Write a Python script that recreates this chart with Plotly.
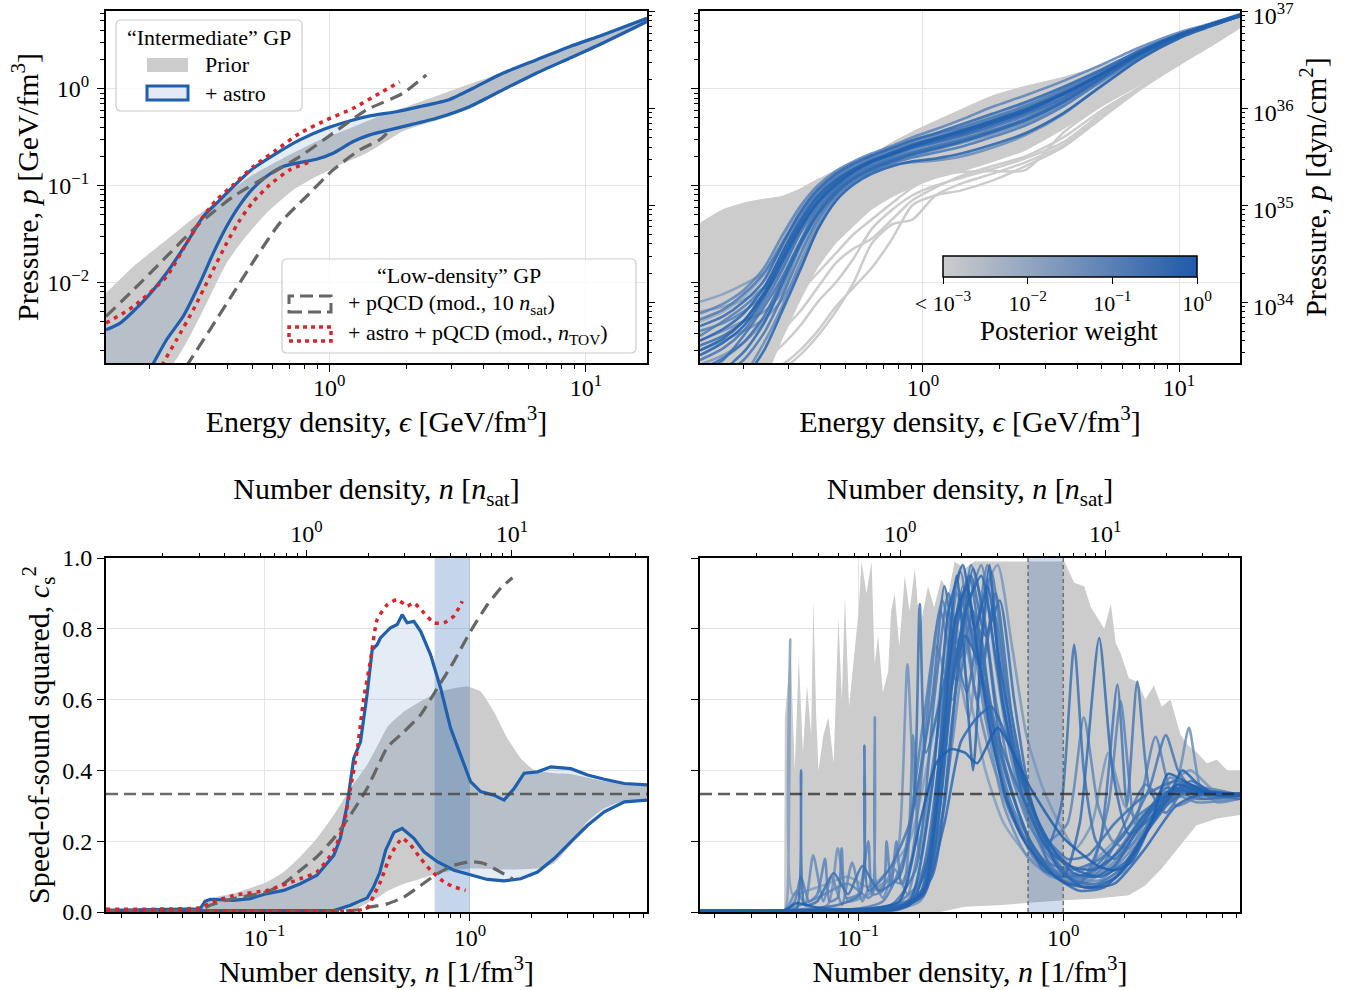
import math
import plotly.graph_objects as go

# ====================== DATA ======================
# ---- top-left: log10(eps [GeV/fm^3]) , log10(p [GeV/fm^3]) ----
tl_prior_up_le = [-0.870, -0.763, -0.634, -0.530, -0.465, -0.400, -0.309, -0.180, -0.050, 0.080, 0.196, 0.287, 0.482, 0.611, 0.741, 0.871, 1.000, 1.238]
tl_prior_up_lp = [-2.110, -1.835, -1.560, -1.337, -1.217, -1.090, -0.907, -0.718, -0.546, -0.409, -0.282, -0.200, -0.014, 0.107, 0.244, 0.365, 0.485, 0.735]
tl_prior_lo_le = [-0.870, -0.608, -0.530, -0.465, -0.400, -0.335, -0.245, -0.141, -0.050, 0.041, 0.145, 0.287, 0.417, 0.546, 0.676, 0.806, 0.936, 1.065, 1.238]
tl_prior_lo_lp = [-3.200, -2.832, -2.488, -2.144, -1.800, -1.560, -1.285, -1.045, -0.907, -0.787, -0.667, -0.440, -0.330, -0.210, -0.030, 0.140, 0.300, 0.455, 0.680]

tl_post_up_le = [-0.870, -0.815, -0.725, -0.634, -0.556, -0.491, -0.439, -0.374, -0.296, -0.206, -0.115, -0.011, 0.093, 0.158, 0.261, 0.352, 0.469, 0.573, 0.676, 0.806, 0.936, 1.065, 1.238]
tl_post_up_lp = [-2.488, -2.419, -2.196, -1.903, -1.594, -1.319, -1.182, -1.010, -0.822, -0.667, -0.529, -0.409, -0.323, -0.281, -0.238, -0.186, -0.111, 0.021, 0.158, 0.296, 0.433, 0.554, 0.725]
tl_post_lo_le = [-0.870, -0.720, -0.685, -0.634, -0.569, -0.504, -0.452, -0.400, -0.348, -0.296, -0.245, -0.180, -0.115, -0.050, 0.015, 0.093, 0.158, 0.287, 0.417, 0.546, 0.676, 0.806, 0.936, 1.065, 1.238]
tl_post_lo_lp = [-3.700, -3.000, -2.832, -2.591, -2.349, -2.006, -1.697, -1.422, -1.199, -1.027, -0.907, -0.804, -0.763, -0.729, -0.667, -0.546, -0.477, -0.392, -0.306, -0.186, -0.013, 0.159, 0.313, 0.468, 0.692]

tl_dash_up_le = [-0.870, -0.763, -0.634, -0.504, -0.374, -0.245, -0.115, 0.015, 0.145, 0.287, 0.378]
tl_dash_up_lp = [-2.350, -2.076, -1.732, -1.388, -1.113, -0.907, -0.701, -0.460, -0.220, -0.048, 0.141]
tl_dash_lo_le = [-0.600, -0.549, -0.465, -0.374, -0.283, -0.193, -0.089, 0.015, 0.119, 0.196, 0.224]
tl_dash_lo_lp = [-3.040, -2.832, -2.488, -2.110, -1.732, -1.388, -1.113, -0.838, -0.632, -0.529, -0.461]

tl_red_up_le = [-0.870, -0.763, -0.634, -0.556, -0.491, -0.439, -0.374, -0.296, -0.206, -0.115, -0.011, 0.093, 0.196, 0.274]
tl_red_up_lp = [-2.419, -2.248, -1.938, -1.594, -1.319, -1.148, -0.993, -0.804, -0.632, -0.460, -0.323, -0.203, -0.048, 0.070]
tl_red_lo_le = [-0.700, -0.647, -0.595, -0.530, -0.465, -0.400, -0.348, -0.296, -0.232, -0.154, -0.070]
tl_red_lo_lp = [-3.100, -2.832, -2.591, -2.282, -1.938, -1.594, -1.354, -1.165, -0.993, -0.838, -0.752]

# ---- top-right: sample EOSs on a common log10(eps) grid (log10 p) ----
tr_grid_le = [-0.87, -0.78, -0.70, -0.62, -0.55, -0.48, -0.41, -0.34, -0.27, -0.20, -0.12, -0.04, 0.05, 0.15, 0.27, 0.40, 0.55, 0.70, 0.85, 1.00, 1.12, 1.24]
tr_gray_env_up = [-1.39, -1.25, -1.18, -1.14, -1.11, -1.03, -0.93, -0.84, -0.77, -0.68, -0.55, -0.44, -0.33, -0.21, -0.07, 0.03, 0.12, 0.24, 0.38, 0.53, 0.64, 0.77]
tr_gray_env_lo = [-3.10, -3.10, -3.10, -3.00, -2.60, -2.20, -1.85, -1.60, -1.42, -1.25, -1.12, -1.02, -0.93, -0.86, -0.76, -0.64, -0.42, -0.17, 0.06, 0.29, 0.47, 0.66]
tr_gray_a = [-2.90, -2.75, -2.60, -2.45, -2.30, -2.10, -1.90, -1.70, -1.50, -1.35, -1.18, -1.02, -0.90, -0.86, -0.85, -0.84, -0.45, -0.17, 0.05, 0.28, 0.46, 0.66]
tr_gray_b = [-3.00, -3.00, -3.00, -2.95, -2.85, -2.70, -2.50, -2.25, -2.05, -1.85, -1.55, -1.20, -1.10, -1.05, -0.95, -0.80, -0.60, -0.30, 0.00, 0.25, 0.44, 0.64]
tr_gray_c = [-3.00, -2.95, -2.85, -2.70, -2.50, -2.30, -2.05, -1.80, -1.65, -1.55, -1.35, -1.15, -1.02, -0.90, -0.80, -0.70, -0.50, -0.22, 0.02, 0.27, 0.46, 0.66]
tr_gray_d = [-1.40, -1.26, -1.19, -1.15, -1.12, -1.05, -0.95, -0.86, -0.78, -0.70, -0.58, -0.46, -0.35, -0.23, -0.10, 0.01, 0.11, 0.23, 0.37, 0.52, 0.63, 0.76]
tr_gray_e = [-3.00, -3.00, -2.90, -2.80, -2.65, -2.45, -2.20, -2.00, -1.75, -1.45, -1.25, -1.10, -1.00, -0.92, -0.83, -0.72, -0.55, -0.25, 0.02, 0.27, 0.46, 0.66]
tr_gray_f = [-3.00, -3.00, -3.00, -3.00, -2.90, -2.75, -2.55, -2.30, -2.00, -1.60, -1.40, -1.35, -1.10, -0.98, -0.88, -0.76, -0.58, -0.28, 0.00, 0.26, 0.45, 0.65]

tr_blue_1 = [-2.75, -2.62, -2.45, -2.15, -1.80, -1.45, -1.18, -1.00, -0.86, -0.76, -0.68, -0.60, -0.53, -0.46, -0.36, -0.24, -0.06, 0.15, 0.37, 0.55, 0.66, 0.76]
tr_blue_2 = [-2.45, -2.35, -2.20, -1.98, -1.62, -1.28, -1.04, -0.88, -0.77, -0.69, -0.61, -0.53, -0.46, -0.37, -0.26, -0.14, 0.02, 0.20, 0.40, 0.56, 0.66, 0.76]
tr_blue_3 = [-3.00, -2.95, -2.80, -2.52, -2.15, -1.72, -1.35, -1.10, -0.95, -0.85, -0.77, -0.71, -0.66, -0.60, -0.50, -0.38, -0.18, 0.08, 0.33, 0.53, 0.65, 0.75]
tr_blue_4 = [-2.32, -2.22, -2.08, -1.85, -1.52, -1.22, -1.00, -0.85, -0.75, -0.67, -0.59, -0.50, -0.42, -0.32, -0.19, -0.07, 0.08, 0.25, 0.43, 0.58, 0.67, 0.77]
tr_blue_5 = [-2.60, -2.50, -2.40, -2.30, -2.10, -1.60, -1.20, -0.98, -0.84, -0.74, -0.66, -0.58, -0.50, -0.42, -0.32, -0.20, -0.03, 0.16, 0.38, 0.55, 0.66, 0.76]
tr_blue_6 = [-2.95, -2.80, -2.55, -2.25, -1.95, -1.58, -1.26, -1.04, -0.90, -0.80, -0.72, -0.65, -0.59, -0.52, -0.43, -0.31, -0.12, 0.12, 0.36, 0.55, 0.66, 0.76]
tr_blue_7 = [-2.20, -2.12, -2.02, -1.90, -1.65, -1.30, -1.05, -0.90, -0.80, -0.72, -0.64, -0.56, -0.49, -0.40, -0.29, -0.17, 0.00, 0.18, 0.39, 0.56, 0.66, 0.76]
tr_blue_8 = [-3.00, -3.00, -2.98, -2.70, -2.30, -1.88, -1.45, -1.16, -0.99, -0.88, -0.80, -0.75, -0.72, -0.67, -0.58, -0.46, -0.25, 0.03, 0.31, 0.52, 0.64, 0.75]
tr_blue_9 = [-2.55, -2.40, -2.25, -2.05, -1.75, -1.38, -1.10, -0.93, -0.82, -0.73, -0.65, -0.57, -0.51, -0.44, -0.35, -0.23, -0.05, 0.16, 0.38, 0.56, 0.66, 0.76]
tr_blue_10 = [-2.85, -2.75, -2.62, -2.40, -2.05, -1.65, -1.30, -1.06, -0.91, -0.81, -0.73, -0.66, -0.60, -0.54, -0.46, -0.35, -0.16, 0.10, 0.34, 0.54, 0.65, 0.75]
tr_blue_11 = [-2.65, -2.55, -2.40, -2.10, -1.70, -1.35, -1.10, -0.94, -0.83, -0.75, -0.68, -0.61, -0.55, -0.48, -0.38, -0.26, -0.09, 0.13, 0.36, 0.55, 0.66, 0.76]
tr_blue_12 = [-2.40, -2.30, -2.15, -1.92, -1.58, -1.25, -1.02, -0.87, -0.78, -0.70, -0.62, -0.54, -0.47, -0.39, -0.28, -0.16, 0.01, 0.19, 0.40, 0.56, 0.66, 0.76]
tr_blue_13 = [-3.00, -3.00, -2.95, -2.62, -2.25, -1.80, -1.40, -1.12, -0.97, -0.86, -0.79, -0.76, -0.74, -0.70, -0.61, -0.48, -0.26, 0.04, 0.31, 0.52, 0.64, 0.75]
tr_blue_14 = [-2.80, -2.68, -2.50, -2.20, -1.88, -1.50, -1.22, -1.02, -0.88, -0.78, -0.70, -0.62, -0.56, -0.49, -0.40, -0.28, -0.10, 0.13, 0.36, 0.55, 0.66, 0.76]
tr_blue_15 = [-2.60, -2.48, -2.32, -2.05, -1.70, -1.38, -1.12, -0.95, -0.83, -0.74, -0.66, -0.58, -0.51, -0.43, -0.33, -0.21, -0.04, 0.16, 0.38, 0.56, 0.66, 0.76]
tr_blue_16 = [-2.90, -2.78, -2.62, -2.35, -1.98, -1.60, -1.28, -1.06, -0.92, -0.82, -0.74, -0.67, -0.61, -0.54, -0.44, -0.32, -0.13, 0.11, 0.35, 0.54, 0.65, 0.75]
tr_blue_17 = [-2.50, -2.42, -2.30, -2.12, -1.85, -1.48, -1.15, -0.95, -0.83, -0.74, -0.66, -0.58, -0.51, -0.44, -0.34, -0.22, -0.05, 0.15, 0.37, 0.55, 0.66, 0.76]
tr_blue_18 = [-2.70, -2.60, -2.50, -2.38, -2.18, -1.85, -1.45, -1.15, -0.97, -0.85, -0.76, -0.69, -0.63, -0.56, -0.47, -0.35, -0.16, 0.10, 0.34, 0.54, 0.65, 0.75]
tr_blue_19 = [-3.00, -2.90, -2.72, -2.42, -2.02, -1.62, -1.30, -1.08, -0.93, -0.83, -0.75, -0.68, -0.62, -0.55, -0.45, -0.33, -0.14, 0.11, 0.35, 0.54, 0.65, 0.75]
tr_blue_20 = [-2.38, -2.28, -2.12, -1.90, -1.60, -1.30, -1.06, -0.90, -0.79, -0.70, -0.62, -0.54, -0.47, -0.40, -0.30, -0.18, -0.01, 0.18, 0.39, 0.56, 0.66, 0.76]
tr_blue_21 = [-2.30, -2.25, -2.18, -2.05, -1.80, -1.42, -1.10, -0.92, -0.81, -0.73, -0.66, -0.59, -0.53, -0.46, -0.37, -0.25, -0.07, 0.14, 0.37, 0.55, 0.66, 0.76]
tr_blue_22 = [-2.70, -2.58, -2.40, -2.12, -1.76, -1.42, -1.16, -0.98, -0.85, -0.75, -0.67, -0.59, -0.52, -0.44, -0.34, -0.22, -0.05, 0.15, 0.37, 0.55, 0.66, 0.76]
tr_blue_weights = [1.0, 0.5, 0.2, 0.1, 0.05, 0.3, 0.02, 0.8, 0.15, 0.03, 0.4, 0.01, 0.06, 0.25,
                   0.7, 0.35, 0.12, 0.04, 0.6, 0.18, 0.015, 0.9]

# ---- bottom-left: log10(n [1/fm^3]) , c_s^2 ----
bl_prior_up_ln = [-1.772, -1.314, -1.265, -1.151, -0.988, -0.907, -0.826, -0.745, -0.663, -0.582, -0.501, -0.45, -0.40, -0.322, -0.240, -0.159, -0.078, -0.013, 0.052, 0.117, 0.182, 0.247, 0.312, 0.410, 0.49, 0.65, 0.862]
bl_prior_up_c = [0.007, 0.009, 0.038, 0.052, 0.085, 0.113, 0.156, 0.208, 0.274, 0.349, 0.415, 0.47, 0.525, 0.566, 0.595, 0.621, 0.632, 0.637, 0.623, 0.566, 0.491, 0.434, 0.401, 0.392, 0.39, 0.37, 0.355]
bl_prior_lo_ln = [-1.772, -0.65, -0.55, -0.50, -0.45, -0.40, -0.32, -0.24, -0.16, -0.08, 0.0, 0.17, 0.33, 0.41, 0.49, 0.57, 0.65, 0.73, 0.862]
bl_prior_lo_c = [0.003, 0.003, 0.01, 0.025, 0.04, 0.06, 0.08, 0.094, 0.108, 0.118, 0.123, 0.12, 0.123, 0.137, 0.189, 0.255, 0.292, 0.311, 0.316]

bl_post_up_ln = [-1.772, -1.314, -1.290, -1.265, -1.151, -1.070, -0.988, -0.907, -0.826, -0.745, -0.663, -0.631, -0.598, -0.566, -0.533, -0.501, -0.476, -0.452, -0.436, -0.387, -0.354, -0.330, -0.306, -0.273, -0.240, -0.192, -0.143, -0.094, -0.046, 0.003, 0.052, 0.117, 0.166, 0.215, 0.264, 0.329, 0.394, 0.491, 0.573, 0.654, 0.752, 0.862]
bl_post_up_c = [0.005, 0.009, 0.030, 0.036, 0.033, 0.038, 0.052, 0.061, 0.080, 0.104, 0.160, 0.208, 0.302, 0.434, 0.481, 0.614, 0.741, 0.755, 0.774, 0.803, 0.812, 0.840, 0.817, 0.821, 0.793, 0.727, 0.633, 0.519, 0.444, 0.368, 0.340, 0.330, 0.316, 0.349, 0.392, 0.396, 0.410, 0.405, 0.387, 0.375, 0.363, 0.359]
bl_post_lo_ln = [-1.772, -0.663, -0.582, -0.50, -0.47, -0.44, -0.41, -0.37, -0.33, -0.273, -0.224, -0.159, -0.078, 0.003, 0.085, 0.166, 0.247, 0.329, 0.410, 0.491, 0.573, 0.654, 0.752, 0.862]
bl_post_lo_c = [0.003, 0.004, 0.019, 0.04, 0.07, 0.11, 0.175, 0.225, 0.236, 0.208, 0.170, 0.142, 0.118, 0.104, 0.092, 0.088, 0.094, 0.113, 0.151, 0.198, 0.245, 0.283, 0.311, 0.316]

bl_red_up_ln = [-1.772, -1.314, -1.265, -1.151, -0.988, -0.826, -0.745, -0.663, -0.615, -0.582, -0.550, -0.517, -0.485, -0.452, -0.403, -0.354, -0.306, -0.273, -0.224, -0.175, -0.127, -0.078, -0.037]
bl_red_up_c = [0.008, 0.012, 0.025, 0.047, 0.061, 0.094, 0.113, 0.174, 0.245, 0.349, 0.453, 0.604, 0.708, 0.826, 0.868, 0.883, 0.864, 0.873, 0.845, 0.817, 0.817, 0.836, 0.878]
bl_red_lo_ln = [-1.772, -0.55, -0.50, -0.468, -0.436, -0.387, -0.330, -0.289, -0.240, -0.192, -0.127, -0.078, -0.021]
bl_red_lo_c = [0.004, 0.004, 0.012, 0.047, 0.085, 0.160, 0.208, 0.189, 0.151, 0.118, 0.085, 0.071, 0.061]

bl_dash_up_ln = [-1.772, -1.314, -1.265, -1.151, -0.988, -0.907, -0.826, -0.745, -0.663, -0.582, -0.501, -0.45, -0.403, -0.322, -0.240, -0.159, -0.078, 0.003, 0.085, 0.150, 0.207]
bl_dash_up_c = [0.005, 0.006, 0.019, 0.038, 0.057, 0.080, 0.118, 0.156, 0.208, 0.274, 0.349, 0.41, 0.465, 0.509, 0.557, 0.632, 0.708, 0.793, 0.868, 0.915, 0.944]
bl_dash_lo_ln = [-1.772, -0.60, -0.52, -0.484, -0.403, -0.322, -0.240, -0.159, -0.078, 0.003, 0.068, 0.133, 0.207]
bl_dash_lo_c = [0.003, 0.003, 0.008, 0.014, 0.023, 0.042, 0.075, 0.108, 0.132, 0.142, 0.137, 0.118, 0.094]

n_tov_band = [0.673, 1.0]
conformal_cs2 = 1.0 / 3.0

# ---- bottom-right: sample c_s^2 curves (log10 n, c_s^2) ----
br_gray_up_ln = [-1.772, -1.362, -1.358, -1.33, -1.31, -1.29, -1.27, -1.25, -1.23, -1.219, -1.205, -1.194, -1.17, -1.146, -1.12, -1.097, -1.08, -1.065, -1.045, -1.02, -1.0, -0.984, -0.96, -0.935, -0.92, -0.903, -0.88, -0.854, -0.84, -0.822, -0.80, -0.773, -0.75, -0.724, -0.70, -0.66, -0.63, -0.595, -0.56, -0.53, -0.48, -0.433, -0.38, -0.30, -0.20, -0.10, 0.005, 0.053, 0.102, 0.135, 0.167, 0.20, 0.232, 0.256, 0.28, 0.32, 0.361, 0.40, 0.442, 0.48, 0.523, 0.572, 0.61, 0.653, 0.70, 0.75, 0.80, 0.862]
br_gray_up_c = [0.004, 0.004, 0.55, 0.74, 0.40, 0.72, 0.45, 0.64, 0.50, 0.88, 0.55, 0.40, 0.50, 0.55, 0.42, 0.83, 0.60, 0.89, 0.58, 0.73, 0.84, 0.99, 0.90, 0.99, 0.70, 0.78, 0.62, 0.68, 0.85, 0.90, 0.75, 0.95, 0.85, 0.97, 0.80, 0.92, 0.86, 0.94, 0.90, 0.99, 0.97, 0.99, 0.99, 0.99, 0.99, 0.99, 0.99, 0.93, 0.92, 0.86, 0.83, 0.80, 0.87, 0.76, 0.73, 0.66, 0.65, 0.60, 0.64, 0.58, 0.60, 0.50, 0.47, 0.45, 0.42, 0.43, 0.40, 0.40]
br_gray_lo_ln = [-1.772, -0.60, -0.48, -0.30, 0.005, 0.167, 0.32, 0.40, 0.48, 0.56, 0.65, 0.75, 0.862]
br_gray_lo_c = [0.0, 0.0, 0.015, 0.02, 0.033, 0.038, 0.047, 0.075, 0.123, 0.18, 0.245, 0.264, 0.274]

br_b1_ln = [-1.772, -1.36, -1.30, -1.20, -1.00, -0.80, -0.70, -0.62, -0.55, -0.48, -0.42, -0.32, -0.16, 0.0, 0.17, 0.25, 0.33, 0.43, 0.51, 0.59, 0.69, 0.862]
br_b1_c = [0.003, 0.005, 0.025, 0.012, 0.008, 0.03, 0.25, 0.42, 0.46, 0.45, 0.42, 0.52, 0.35, 0.21, 0.13, 0.118, 0.14, 0.255, 0.39, 0.37, 0.34, 0.335]
br_b2_ln = [-1.772, -1.36, -1.0, -0.75, -0.66, -0.58, -0.52, -0.48, -0.44, -0.40, -0.36, -0.30, -0.22, -0.12, -0.02, 0.10, 0.25, 0.40, 0.55, 0.70, 0.862]
br_b2_c = [0.003, 0.004, 0.006, 0.02, 0.15, 0.60, 0.95, 0.70, 0.40, 0.75, 0.98, 0.60, 0.40, 0.25, 0.12, 0.07, 0.08, 0.18, 0.30, 0.34, 0.33]
br_b3_ln = [-1.772, -1.36, -0.90, -0.70, -0.58, -0.48, -0.40, -0.33, -0.25, -0.16, -0.08, -0.01, 0.053, 0.10, 0.16, 0.25, 0.35, 0.50, 0.65, 0.862]
br_b3_c = [0.003, 0.004, 0.01, 0.05, 0.30, 0.85, 0.70, 0.90, 0.55, 0.30, 0.18, 0.30, 0.755, 0.40, 0.20, 0.15, 0.22, 0.35, 0.32, 0.33]
br_b4_ln = [-1.772, -1.36, -0.80, -0.64, -0.54, -0.44, -0.38, -0.30, -0.20, -0.10, 0.0, 0.08, 0.175, 0.24, 0.32, 0.45, 0.60, 0.75, 0.862]
br_b4_c = [0.003, 0.004, 0.01, 0.10, 0.55, 0.97, 0.80, 0.45, 0.25, 0.12, 0.10, 0.25, 0.774, 0.40, 0.22, 0.28, 0.36, 0.33, 0.32]
br_b5_ln = [-1.772, -1.36, -0.75, -0.60, -0.50, -0.42, -0.34, -0.24, -0.14, -0.04, 0.08, 0.18, 0.264, 0.31, 0.361, 0.42, 0.50, 0.62, 0.75, 0.862]
br_b5_c = [0.003, 0.004, 0.02, 0.45, 0.90, 0.60, 0.85, 0.45, 0.25, 0.10, 0.08, 0.20, 0.642, 0.30, 0.651, 0.35, 0.28, 0.37, 0.33, 0.33]
br_b6_ln = [-1.772, -1.36, -0.85, -0.68, -0.57, -0.50, -0.44, -0.37, -0.29, -0.19, -0.08, 0.02, 0.12, 0.22, 0.28, 0.35, 0.45, 0.55, 0.70, 0.862]
br_b6_c = [0.003, 0.004, 0.01, 0.10, 0.70, 0.96, 0.75, 0.98, 0.60, 0.30, 0.15, 0.08, 0.10, 0.30, 0.595, 0.25, 0.495, 0.30, 0.34, 0.33]
br_b7_ln = [-1.772, -1.36, -0.70, -0.56, -0.46, -0.38, -0.29, -0.18, -0.06, 0.05, 0.20, 0.35, 0.48, 0.56, 0.613, 0.67, 0.75, 0.862]
br_b7_c = [0.003, 0.004, 0.03, 0.40, 0.80, 0.55, 0.30, 0.16, 0.10, 0.09, 0.12, 0.20, 0.30, 0.38, 0.52, 0.35, 0.31, 0.32]
br_b8_ln = [-1.772, -1.36, -1.30, -1.279, -1.26, -1.20, -1.12, -1.05, -0.98, -0.90, -0.80, -0.73, -0.70, -0.67, -0.56, -0.46, -0.39, -0.32, -0.22, -0.10, 0.02, 0.12, 0.25, 0.40, 0.55, 0.70, 0.862]
br_b8_c = [0.003, 0.004, 0.01, 0.40, 0.02, 0.03, 0.11, 0.05, 0.13, 0.06, 0.10, 0.30, 0.87, 0.45, 0.70, 0.95, 0.70, 0.50, 0.35, 0.22, 0.15, 0.16, 0.25, 0.33, 0.37, 0.34, 0.33]
br_b9_ln = [-1.772, -1.36, -1.345, -1.332, -1.32, -1.25, -1.15, -1.05, -0.95, -0.85, -0.75, -0.62, -0.54, -0.47, -0.38, -0.29, -0.16, -0.03, 0.10, 0.25, 0.40, 0.55, 0.70, 0.862]
br_b9_c = [0.003, 0.004, 0.05, 0.77, 0.05, 0.06, 0.08, 0.10, 0.07, 0.12, 0.20, 0.55, 0.85, 0.65, 0.40, 0.25, 0.15, 0.10, 0.12, 0.20, 0.28, 0.35, 0.33, 0.33]
br_b10_ln = [-1.772, -1.36, -1.20, -1.05, -0.95, -0.93, -0.919, -0.905, -0.85, -0.78, -0.733, -0.70, -0.58, -0.48, -0.40, -0.34, -0.25, -0.14, -0.05, 0.08, 0.22, 0.36, 0.50, 0.65, 0.862]
br_b10_c = [0.003, 0.004, 0.04, 0.08, 0.04, 0.05, 0.55, 0.06, 0.09, 0.08, 0.50, 0.15, 0.65, 0.90, 0.75, 0.50, 0.30, 0.18, 0.12, 0.10, 0.14, 0.25, 0.34, 0.31, 0.32]
br_b11_ln = [-1.772, -1.36, -1.0, -0.80, -0.68, -0.58, -0.50, -0.42, -0.35, -0.28, -0.20, -0.12, -0.03, 0.05, 0.15, 0.25, 0.35, 0.45, 0.55, 0.65, 0.75, 0.862]
br_b11_c = [0.003, 0.004, 0.006, 0.01, 0.05, 0.25, 0.48, 0.55, 0.58, 0.50, 0.38, 0.25, 0.16, 0.11, 0.10, 0.13, 0.22, 0.30, 0.35, 0.33, 0.33, 0.33]
br_b12_ln = [-1.772, -1.36, -0.90, -0.75, -0.64, -0.56, -0.49, -0.43, -0.37, -0.31, -0.23, -0.14, -0.04, 0.06, 0.18, 0.30, 0.42, 0.52, 0.58, 0.66, 0.75, 0.862]
br_b12_c = [0.003, 0.004, 0.008, 0.03, 0.35, 0.85, 0.98, 0.80, 0.92, 0.70, 0.45, 0.28, 0.17, 0.12, 0.10, 0.14, 0.24, 0.33, 0.40, 0.36, 0.33, 0.33]
br_b13_ln = [-1.772, -1.36, -1.15, -1.10, -1.05, -0.95, -0.85, -0.80, -0.76, -0.72, -0.62, -0.54, -0.46, -0.38, -0.28, -0.18, -0.06, 0.08, 0.22, 0.38, 0.52, 0.68, 0.862]
br_b13_c = [0.003, 0.004, 0.02, 0.18, 0.03, 0.05, 0.10, 0.20, 0.70, 0.30, 0.75, 0.60, 0.85, 0.55, 0.35, 0.20, 0.11, 0.08, 0.12, 0.22, 0.32, 0.35, 0.33]
br_b14_ln = [-1.772, -1.36, -1.00, -0.88, -0.78, -0.68, -0.59, -0.52, -0.45, -0.39, -0.33, -0.26, -0.17, -0.06, 0.05, 0.18, 0.30, 0.42, 0.55, 0.68, 0.862]
br_b14_c = [0.003, 0.004, 0.01, 0.03, 0.15, 0.55, 0.88, 0.70, 0.98, 0.85, 0.60, 0.40, 0.25, 0.15, 0.09, 0.07, 0.12, 0.26, 0.36, 0.32, 0.33]
br_b15_ln = [-1.772, -1.36, -1.10, -0.99, -0.97, -0.95, -0.85, -0.75, -0.64, -0.58, -0.53, -0.47, -0.41, -0.35, -0.29, -0.21, -0.10, 0.00, 0.12, 0.24, 0.36, 0.48, 0.60, 0.72, 0.862]
br_b15_c = [0.003, 0.004, 0.02, 0.05, 0.47, 0.06, 0.12, 0.25, 0.60, 0.92, 0.75, 0.62, 0.80, 0.55, 0.35, 0.22, 0.14, 0.10, 0.11, 0.18, 0.27, 0.32, 0.36, 0.34, 0.33]
br_b16_ln = [-1.772, -1.36, -1.30, -1.26, -1.22, -1.17, -1.13, -1.08, -1.03, -0.98, -0.93, -0.88, -0.82, -0.76, -0.70, -0.60, -0.52, -0.44, -0.36, -0.26, -0.14, 0.02, 0.18, 0.34, 0.50, 0.66, 0.862]
br_b16_c = [0.003, 0.004, 0.06, 0.02, 0.16, 0.03, 0.10, 0.02, 0.14, 0.03, 0.09, 0.04, 0.12, 0.05, 0.20, 0.55, 0.90, 0.65, 0.45, 0.28, 0.16, 0.10, 0.09, 0.18, 0.30, 0.35, 0.33]
br_b17_ln = [-1.772, -1.36, -0.80, -0.68, -0.60, -0.53, -0.47, -0.41, -0.35, -0.28, -0.19, -0.08, 0.02, 0.14, 0.26, 0.36, 0.46, 0.56, 0.66, 0.76, 0.862]
br_b17_c = [0.003, 0.004, 0.01, 0.06, 0.40, 0.82, 0.92, 0.70, 0.50, 0.32, 0.20, 0.12, 0.08, 0.07, 0.10, 0.18, 0.29, 0.36, 0.34, 0.33, 0.33]
br_b18_ln = [-1.772, -1.36, -0.85, -0.70, -0.60, -0.52, -0.45, -0.38, -0.31, -0.24, -0.16, -0.06, 0.05, 0.16, 0.28, 0.40, 0.52, 0.64, 0.76, 0.862]
br_b18_c = [0.003, 0.004, 0.01, 0.04, 0.35, 0.80, 0.95, 0.78, 0.88, 0.60, 0.32, 0.16, 0.09, 0.08, 0.12, 0.22, 0.31, 0.35, 0.33, 0.33]
br_b19_ln = [-1.772, -1.36, -0.80, -0.66, -0.57, -0.49, -0.42, -0.35, -0.28, -0.20, -0.10, 0.00, 0.10, 0.20, 0.30, 0.40, 0.50, 0.62, 0.74, 0.862]
br_b19_c = [0.003, 0.004, 0.01, 0.08, 0.50, 0.92, 0.70, 0.96, 0.65, 0.40, 0.22, 0.12, 0.10, 0.14, 0.25, 0.36, 0.31, 0.36, 0.33, 0.33]
br_b20_ln = [-1.772, -1.36, -0.78, -0.64, -0.55, -0.47, -0.40, -0.33, -0.26, -0.18, -0.08, 0.02, 0.10, 0.17, 0.24, 0.32, 0.42, 0.52, 0.64, 0.76, 0.862]
br_b20_c = [0.003, 0.004, 0.02, 0.20, 0.65, 0.85, 0.98, 0.70, 0.45, 0.28, 0.20, 0.25, 0.55, 0.30, 0.20, 0.18, 0.28, 0.38, 0.34, 0.32, 0.33]
br_b21_ln = [-1.772, -1.36, -0.82, -0.70, -0.62, -0.55, -0.48, -0.41, -0.34, -0.26, -0.16, -0.04, 0.08, 0.20, 0.32, 0.44, 0.56, 0.68, 0.80, 0.862]
br_b21_c = [0.003, 0.004, 0.01, 0.05, 0.28, 0.62, 0.78, 0.70, 0.52, 0.35, 0.20, 0.10, 0.06, 0.07, 0.14, 0.26, 0.35, 0.34, 0.33, 0.33]
br_b22_ln = [-1.772, -1.36, -0.75, -0.62, -0.54, -0.46, -0.39, -0.32, -0.25, -0.18, -0.10, -0.02, 0.06, 0.14, 0.22, 0.30, 0.40, 0.50, 0.62, 0.74, 0.862]
br_b22_c = [0.003, 0.004, 0.03, 0.30, 0.75, 0.55, 0.90, 0.98, 0.75, 0.50, 0.35, 0.25, 0.18, 0.25, 0.45, 0.30, 0.25, 0.35, 0.40, 0.34, 0.33]
br_b23_ln = [-1.772, -1.36, -0.84, -0.72, -0.63, -0.56, -0.50, -0.44, -0.37, -0.29, -0.20, -0.08, 0.05, 0.18, 0.30, 0.42, 0.50, 0.56, 0.64, 0.76, 0.862]
br_b23_c = [0.003, 0.004, 0.02, 0.12, 0.60, 0.90, 0.72, 0.85, 0.55, 0.35, 0.22, 0.14, 0.12, 0.15, 0.22, 0.35, 0.50, 0.40, 0.34, 0.33, 0.33]
br_b24_ln = [-1.772, -1.36, -0.80, -0.68, -0.60, -0.53, -0.46, -0.40, -0.33, -0.26, -0.18, -0.08, 0.03, 0.15, 0.27, 0.39, 0.51, 0.63, 0.75, 0.862]
br_b24_c = [0.003, 0.004, 0.01, 0.05, 0.30, 0.70, 0.88, 0.95, 0.72, 0.48, 0.30, 0.18, 0.13, 0.12, 0.17, 0.27, 0.34, 0.34, 0.33, 0.33]
br_b25_ln = [-1.772, -1.36, -1.31, -1.28, -1.24, -1.20, -1.162, -1.14, -1.10, -1.081, -1.06, -1.00, -0.951, -0.93, -0.88, -0.862, -0.84, -0.814, -0.79, -0.74, -0.68, -0.60, -0.52, -0.44, -0.36, -0.26, -0.14, 0.0, 0.14, 0.28, 0.42, 0.56, 0.70, 0.862]
br_b25_c = [0.003, 0.004, 0.03, 0.10, 0.03, 0.05, 0.15, 0.03, 0.04, 0.18, 0.04, 0.05, 0.20, 0.05, 0.06, 0.20, 0.07, 0.20, 0.08, 0.15, 0.45, 0.85, 0.65, 0.80, 0.55, 0.30, 0.15, 0.10, 0.10, 0.18, 0.28, 0.36, 0.34, 0.33]
br_blue_weights = [1.0, 0.6, 0.3, 0.4, 0.2, 0.1, 0.05, 0.3, 0.02, 0.08, 0.5, 0.7, 0.04, 0.12, 0.25, 0.06, 0.9,
                   0.35, 0.15, 0.08, 0.5, 0.03, 0.2, 0.6, 0.1]

# axis tick labels
eps_ticks = [1, 10]
eps_ticktext = ["10<sup>0</sup>", "10<sup>1</sup>"]
p_ticks = [0.01, 0.1, 1]
p_ticktext = ["10<sup>\u22122</sup>", "10<sup>\u22121</sup>", "10<sup>0</sup>"]
dyn_ticks = [1e34, 1e35, 1e36, 1e37]
dyn_ticktext = ["10<sup>34</sup>", "10<sup>35</sup>", "10<sup>36</sup>", "10<sup>37</sup>"]
n_ticks = [0.1, 1]
n_ticktext = ["10<sup>\u22121</sup>", "10<sup>0</sup>"]
nsat_ticks = [1, 10]
nsat_ticktext = ["10<sup>0</sup>", "10<sup>1</sup>"]
cs_ticks = [0.0, 0.2, 0.4, 0.6, 0.8, 1.0]
cs_ticktext = ["0.0", "0.2", "0.4", "0.6", "0.8", "1.0"]
cb_ticks = [-3, -2, -1, 0]
cb_ticktext = ["&lt; 10<sup>\u22123</sup>", "10<sup>\u22122</sup>", "10<sup>\u22121</sup>", "10<sup>0</sup>"]

# ====================== STYLE / LAYOUT ======================
W, H = 1354, 990
FONT = "Liberation Serif"
BLUE = "#1f5fae"
BLUE_RGB = (31, 95, 174)
GRAY_RGB = (204, 204, 204)
GRAY = "#cccccc"
DGRAY = "#666666"
RED = "#d7262b"
GRID = "#e4e4e4"
LOG_DYN = math.log10(1.602176634e36)   # GeV/fm^3 -> dyn/cm^2
LOG_NSAT = math.log10(1 / 0.16)        # 1/fm^3 -> n_sat

EPS_RANGE = [-0.870, 1.238]
P_RANGE = [-2.831, 0.801]
N_RANGE = [-1.772, 0.862]


def X(p):
    return p / W


def Y(p):
    return 1 - p / H


TL_X = [X(106), X(647)]
TR_X = [X(700), X(1240)]
TOP_Y = [Y(363), Y(11)]
BOT_Y = [Y(912), Y(558)]


def pw(a):
    return [10 ** v for v in a]


def wcolor(w, alpha=0.85):
    t = min(max((math.log10(w) + 3) / 3, 0), 1)
    c = [round(g + (b - g) * t) for g, b in zip(GRAY_RGB, BLUE_RGB)]
    return f"rgba({c[0]},{c[1]},{c[2]},{alpha})"


fig = go.Figure()


def add(**kw):
    kw.setdefault("hoverinfo", "skip")
    kw.setdefault("showlegend", False)
    kw.setdefault("mode", "lines")
    fig.add_trace(go.Scatter(**kw))


# ---------- top-left ----------
add(x=pw(tl_prior_up_le + tl_prior_lo_le[::-1]), y=pw(tl_prior_up_lp + tl_prior_lo_lp[::-1]),
    fill="toself", fillcolor=GRAY, line=dict(width=0, shape="spline", smoothing=0.5), xaxis="x", yaxis="y")
add(x=pw(tl_post_up_le + tl_post_lo_le[::-1]), y=pw(tl_post_up_lp + tl_post_lo_lp[::-1]),
    fill="toself", fillcolor="rgba(31,95,174,0.12)", line=dict(width=0, shape="spline", smoothing=0.5), xaxis="x", yaxis="y")
for le, lp in [(tl_post_up_le, tl_post_up_lp), (tl_post_lo_le, tl_post_lo_lp)]:
    add(x=pw(le), y=pw(lp), line=dict(color=BLUE, width=3.2, shape="spline", smoothing=0.6), xaxis="x", yaxis="y")
for le, lp in [(tl_dash_up_le, tl_dash_up_lp), (tl_dash_lo_le, tl_dash_lo_lp)]:
    add(x=pw(le), y=pw(lp), line=dict(color=DGRAY, width=3.2, dash="13px,7px", shape="spline", smoothing=0.6), xaxis="x", yaxis="y")
for le, lp in [(tl_red_up_le, tl_red_up_lp), (tl_red_lo_le, tl_red_lo_lp)]:
    add(x=pw(le), y=pw(lp), line=dict(color=RED, width=3.5, dash="4px,5px", shape="spline", smoothing=0.6), xaxis="x", yaxis="y")

# ---------- top-right ----------
add(x=pw(tr_grid_le + tr_grid_le[::-1]), y=pw(tr_gray_env_up + tr_gray_env_lo[::-1]),
    fill="toself", fillcolor=GRAY, line=dict(width=0, shape="spline", smoothing=0.5), xaxis="x2", yaxis="y2")
for g in [tr_gray_a, tr_gray_b, tr_gray_c, tr_gray_d, tr_gray_e, tr_gray_f]:
    add(x=pw(tr_grid_le), y=pw(g), line=dict(color=GRAY, width=2.5, shape="spline", smoothing=0.7), xaxis="x2", yaxis="y2")
tr_blue = [tr_blue_1, tr_blue_2, tr_blue_3, tr_blue_4, tr_blue_5, tr_blue_6, tr_blue_7, tr_blue_8,
           tr_blue_9, tr_blue_10, tr_blue_11, tr_blue_12, tr_blue_13, tr_blue_14, tr_blue_15,
           tr_blue_16, tr_blue_17, tr_blue_18, tr_blue_19, tr_blue_20, tr_blue_21, tr_blue_22]
for w, b in sorted(zip(tr_blue_weights, tr_blue), key=lambda t: t[0]):
    add(x=pw(tr_grid_le), y=pw(b), line=dict(color=wcolor(w), width=2.6, shape="spline", smoothing=0.7), xaxis="x2", yaxis="y2")
# colour bar carrier (the curves' posterior weights)
add(x=[10 ** tr_grid_le[-1]] * len(tr_blue), y=[10 ** b[-1] for b in tr_blue], mode="markers",
    marker=dict(size=1, opacity=0, color=[math.log10(w) for w in tr_blue_weights], cmin=-3, cmax=0,
                colorscale=[[0, "rgb(204,204,204)"], [1, "rgb(31,90,170)"]], showscale=True,
                colorbar=dict(orientation="h", x=X(1070), xanchor="center", y=Y(256), yanchor="top",
                              len=254, lenmode="pixels", thickness=21, thicknessmode="pixels",
                              xpad=0, ypad=0, outlinewidth=1.5, outlinecolor="black",
                              tickmode="array", tickvals=cb_ticks, ticktext=cb_ticktext,
                              ticks="outside", ticklen=7, tickwidth=1.2, tickcolor="black",
                              tickfont=dict(family=FONT, size=22, color="black"))),
    xaxis="x2", yaxis="y2")

# ---------- bottom-left ----------
add(x=pw(bl_prior_up_ln + bl_prior_lo_ln[::-1]), y=bl_prior_up_c + bl_prior_lo_c[::-1],
    fill="toself", fillcolor=GRAY, line=dict(width=0, shape="spline", smoothing=0.4), xaxis="x3", yaxis="y3")
add(x=pw(bl_post_up_ln + bl_post_lo_ln[::-1]), y=bl_post_up_c + bl_post_lo_c[::-1],
    fill="toself", fillcolor="rgba(31,95,174,0.12)", line=dict(width=0), xaxis="x3", yaxis="y3")
add(x=[n_tov_band[0], n_tov_band[0], n_tov_band[1], n_tov_band[1]], y=[0, 1, 1, 0],
    fill="toself", fillcolor="rgba(31,95,174,0.26)", line=dict(width=0), xaxis="x3", yaxis="y3")
for ln, c in [(bl_post_up_ln, bl_post_up_c), (bl_post_lo_ln, bl_post_lo_c)]:
    add(x=pw(ln), y=c, line=dict(color=BLUE, width=3.2), xaxis="x3", yaxis="y3")
for ln, c in [(bl_dash_up_ln, bl_dash_up_c), (bl_dash_lo_ln, bl_dash_lo_c)]:
    add(x=pw(ln), y=c, line=dict(color=DGRAY, width=3.2, dash="13px,7px", shape="spline", smoothing=0.5), xaxis="x3", yaxis="y3")
for ln, c in [(bl_red_up_ln, bl_red_up_c), (bl_red_lo_ln, bl_red_lo_c)]:
    add(x=pw(ln), y=c, line=dict(color=RED, width=3.5, dash="4px,5px", shape="spline", smoothing=0.5), xaxis="x3", yaxis="y3")
add(x=pw(N_RANGE), y=[conformal_cs2] * 2, line=dict(color="rgba(70,70,70,0.8)", width=2.5, dash="12px,6px"), xaxis="x3", yaxis="y3")

# ---------- bottom-right ----------
add(x=pw(br_gray_up_ln + br_gray_lo_ln[::-1]), y=br_gray_up_c + br_gray_lo_c[::-1],
    fill="toself", fillcolor=GRAY, line=dict(width=0), xaxis="x4", yaxis="y4")
add(x=[n_tov_band[0], n_tov_band[0], n_tov_band[1], n_tov_band[1]], y=[0, 1, 1, 0],
    fill="toself", fillcolor="rgba(31,95,174,0.22)", line=dict(width=0), xaxis="x4", yaxis="y4")
br_lines = [(br_b1_ln, br_b1_c), (br_b2_ln, br_b2_c), (br_b3_ln, br_b3_c), (br_b4_ln, br_b4_c),
            (br_b5_ln, br_b5_c), (br_b6_ln, br_b6_c), (br_b7_ln, br_b7_c), (br_b8_ln, br_b8_c),
            (br_b9_ln, br_b9_c), (br_b10_ln, br_b10_c), (br_b11_ln, br_b11_c), (br_b12_ln, br_b12_c),
            (br_b13_ln, br_b13_c), (br_b14_ln, br_b14_c), (br_b15_ln, br_b15_c), (br_b16_ln, br_b16_c),
            (br_b17_ln, br_b17_c), (br_b18_ln, br_b18_c), (br_b19_ln, br_b19_c), (br_b20_ln, br_b20_c),
            (br_b21_ln, br_b21_c), (br_b22_ln, br_b22_c), (br_b23_ln, br_b23_c), (br_b24_ln, br_b24_c),
            (br_b25_ln, br_b25_c)]
for w, (ln, c) in sorted(zip(br_blue_weights, br_lines), key=lambda t: t[0]):
    add(x=pw(ln), y=c, line=dict(color=wcolor(w), width=2.6, shape="spline", smoothing=0.6), xaxis="x4", yaxis="y4")
for nb in n_tov_band:
    add(x=[nb, nb], y=[0, 1], line=dict(color="rgba(90,90,90,0.8)", width=1.5, dash="4px,3px"), xaxis="x4", yaxis="y4")
add(x=pw(N_RANGE), y=[conformal_cs2] * 2, line=dict(color="rgba(40,40,40,0.75)", width=2.5, dash="12px,6px"), xaxis="x4", yaxis="y4")

# empty carriers for twin axes
for xa, ya in [("x", "y5"), ("x2", "y6"), ("x7", "y3"), ("x8", "y4")]:
    add(x=[], y=[], xaxis=xa, yaxis=ya)

# ---------- axes ----------
TICKFONT = dict(family=FONT, size=24, color="black")
TITLEFONT = dict(family=FONT, size=30, color="black")


def minors(lo, hi):
    return [k * 10.0 ** m for m in range(lo, hi) for k in range(2, 10)]


def axis(domain, rng, tickvals, ticktext, log=True, minor_vals=None, title=None, standoff=8,
         grid=True, labels=True, line=True, **kw):
    d = dict(domain=domain, range=rng, type="log" if log else "linear", tickmode="array",
             tickvals=tickvals, ticktext=ticktext, ticks="outside", ticklen=7, tickwidth=1.4,
             tickcolor="black", showticklabels=labels, tickfont=TICKFONT, showgrid=grid,
             gridcolor=GRID, gridwidth=1.2, zeroline=False, automargin=False,
             ticklabeloverflow="allow",
             showline=line, mirror=line, linecolor="black", linewidth=2)
    if minor_vals is not None:
        d["minor"] = dict(tickmode="array", tickvals=minor_vals, ticks="outside", ticklen=4,
                          tickwidth=1, tickcolor="black", showgrid=False)
    if title:
        d["title"] = dict(text=title, font=TITLEFONT, standoff=standoff)
    d.update(kw)
    return d


EPS_TITLE = "Energy density, <i>\u03f5</i> [GeV/fm<sup>3</sup>]"
N_TITLE = "Number density, <i>n</i> [1/fm<sup>3</sup>]"
NSAT_TITLE = "Number density, <i>n</i> [<i>n</i><sub>sat</sub>]"
P_RNG_DYN = [P_RANGE[0] + LOG_DYN, P_RANGE[1] + LOG_DYN]
N_RNG_SAT = [N_RANGE[0] + LOG_NSAT, N_RANGE[1] + LOG_NSAT]

layout = dict(
    width=W, height=H, margin=dict(l=0, r=0, t=0, b=0), template="none",
    paper_bgcolor="white", plot_bgcolor="white", showlegend=False,
    font=dict(family=FONT, color="black"),
    xaxis=axis(TL_X, EPS_RANGE, eps_ticks, eps_ticktext, minor_vals=minors(-1, 2), title=EPS_TITLE,
               anchor="y", standoff=0, ticklabelstandoff=-5),
    yaxis=axis(TOP_Y, P_RANGE, p_ticks, p_ticktext, minor_vals=minors(-3, 1),
               title="Pressure, <i>p</i> [GeV/fm<sup>3</sup>]", anchor="x", standoff=0, ticklabelstandoff=3),
    yaxis5=axis(TOP_Y, P_RNG_DYN, dyn_ticks, dyn_ticktext, minor_vals=minors(33, 37), grid=False,
                labels=False, line=False, overlaying="y", side="right", anchor="x"),
    xaxis2=axis(TR_X, EPS_RANGE, eps_ticks, eps_ticktext, minor_vals=minors(-1, 2), title=EPS_TITLE,
                anchor="y2", standoff=0, ticklabelstandoff=-5),
    yaxis2=axis(TOP_Y, P_RANGE, p_ticks, p_ticktext, minor_vals=minors(-3, 1), labels=False, anchor="x2"),
    yaxis6=axis(TOP_Y, P_RNG_DYN, dyn_ticks, dyn_ticktext, minor_vals=minors(33, 37), grid=False,
                line=False, overlaying="y2", side="right", anchor="x2", ticklabelshift=4,
                title="Pressure, <i>p</i> [dyn/cm<sup>2</sup>]", standoff=6),
    xaxis3=axis(TL_X, N_RANGE, n_ticks, n_ticktext, minor_vals=minors(-2, 1), title=N_TITLE,
                anchor="y3", standoff=0, ticklabelstandoff=-4),
    yaxis3=axis(BOT_Y, [0, 1], cs_ticks, cs_ticktext, log=False,
                title="Speed-of-sound squared, <i>c</i><sub>s</sub><sup>2</sup>", anchor="x3", standoff=4),
    xaxis7=axis(TL_X, N_RNG_SAT, nsat_ticks, nsat_ticktext, minor_vals=minors(-1, 2), grid=False, line=False,
                title=NSAT_TITLE, overlaying="x3", side="top", anchor="y3", standoff=8, ticklabelstandoff=-2),
    xaxis4=axis(TR_X, N_RANGE, n_ticks, n_ticktext, minor_vals=minors(-2, 1), title=N_TITLE,
                anchor="y4", standoff=0, ticklabelstandoff=-4),
    yaxis4=axis(BOT_Y, [0, 1], cs_ticks, cs_ticktext, log=False, labels=False, anchor="x4"),
    xaxis8=axis(TR_X, N_RNG_SAT, nsat_ticks, nsat_ticktext, minor_vals=minors(-1, 2), grid=False, line=False,
                title=NSAT_TITLE, overlaying="x4", side="top", anchor="y4", standoff=8, ticklabelstandoff=-2),
)
fig.update_layout(**layout)


# ---------- hand-made legends (top-left panel) ----------
def rrect_path(x0, y0, x1, y1, r=5):
    return (f"M {X(x0 + r)},{Y(y0)} L {X(x1 - r)},{Y(y0)} Q {X(x1)},{Y(y0)} {X(x1)},{Y(y0 + r)} "
            f"L {X(x1)},{Y(y1 - r)} Q {X(x1)},{Y(y1)} {X(x1 - r)},{Y(y1)} "
            f"L {X(x0 + r)},{Y(y1)} Q {X(x0)},{Y(y1)} {X(x0)},{Y(y1 - r)} "
            f"L {X(x0)},{Y(y0 + r)} Q {X(x0)},{Y(y0)} {X(x0 + r)},{Y(y0)} Z")


shapes = [
    dict(type="path", xref="paper", yref="paper", path=rrect_path(116, 20, 302, 111),
         fillcolor="rgba(255,255,255,0.8)", line=dict(color="#cccccc", width=1.2)),
    dict(type="rect", xref="paper", yref="paper", x0=X(147), x1=X(188), y0=Y(72), y1=Y(58),
         fillcolor=GRAY, line=dict(width=0)),
    dict(type="rect", xref="paper", yref="paper", x0=X(147), x1=X(188), y0=Y(100), y1=Y(86),
         fillcolor="#e3eaf4", line=dict(color=BLUE, width=3)),
    dict(type="path", xref="paper", yref="paper", path=rrect_path(282, 259, 636, 353),
         fillcolor="rgba(255,255,255,0.8)", line=dict(color="#cccccc", width=1.2)),
    dict(type="rect", xref="paper", yref="paper", x0=X(289), x1=X(331), y0=Y(312), y1=Y(296),
         fillcolor="rgba(255,255,255,0)", line=dict(color=DGRAY, width=3, dash="13px,6px")),
    dict(type="rect", xref="paper", yref="paper", x0=X(289), x1=X(331), y0=Y(341), y1=Y(327),
         fillcolor="rgba(255,255,255,0)", line=dict(color=RED, width=3.5, dash="4px,4px")),
]


def ann(text, x, y, xanchor="left", size=22, yanchor="middle"):
    return dict(text=text, x=X(x), y=Y(y), xref="paper", yref="paper", xanchor=xanchor,
                yanchor=yanchor, showarrow=False, font=dict(family=FONT, size=size, color="black"))


annotations = [
    ann("\u201cIntermediate\u201d GP", 209, 37, "center"),
    ann("Prior", 203, 65),
    ann("+ astro", 203, 93),
    ann("\u201cLow-density\u201d GP", 459, 275, "center"),
    ann("+ pQCD (mod., 10 <i>n</i><sub>sat</sub>)", 346, 304),
    ann("+ astro + pQCD (mod., <i>n</i><sub>TOV</sub>)", 346, 334),
    ann("Posterior weight", 1069, 314, "center", size=27, yanchor="top"),   # colour-bar title
]
fig.update_layout(shapes=shapes, annotations=annotations)

fig.write_html("out.html")
